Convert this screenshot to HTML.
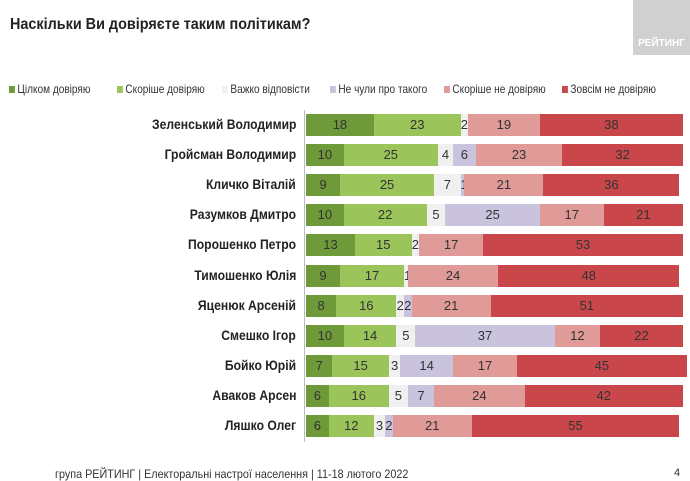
<!DOCTYPE html>
<html><head><meta charset="utf-8"><style>
body{margin:0;width:690px;height:478px;background:#fff;font-family:"Liberation Sans",sans-serif;position:relative;overflow:hidden}
.t{position:absolute;left:10px;top:16px;font-size:16px;font-weight:bold;color:#222;transform:scaleX(.9);transform-origin:left}
.logo{position:absolute;left:633px;top:0;width:57px;height:55px;background:#d0d0d0;color:#fff;font-size:10px;font-weight:bold;text-align:center;line-height:12px;padding-top:38px;box-sizing:border-box}
.lg{position:absolute;top:82px;font-size:12px;color:#333;white-space:nowrap;transform:scaleX(.84);transform-origin:left}
.lg i{display:inline-block;width:7px;height:7px;margin-right:3px}
.nm{position:absolute;right:394px;font-size:13.5px;font-weight:bold;color:#222;white-space:nowrap;transform:scaleX(.9);transform-origin:right}
.row{position:absolute;left:306px;height:22px;display:flex}
.row div{height:22px;line-height:22px;text-align:center;font-size:13px;color:#333;overflow:visible;white-space:nowrap}
.ax{position:absolute;left:304px;top:110px;width:1px;height:332px;background:#bbb}
.ft{position:absolute;left:55px;top:467px;font-size:12px;color:#333;transform:scaleX(.9);transform-origin:left}
</style></head><body>
<div class="t">Наскільки Ви довіряєте таким політикам?</div>
<div class="logo">РЕЙТИНГ</div>
<div class="lg" style="left:9px"><i style="background:#6f9a3a"></i>Цілком довіряю</div>
<div class="lg" style="left:117px"><i style="background:#9bc45a"></i>Скоріше довіряю</div>
<div class="lg" style="left:222px"><i style="background:#f0f0f0"></i>Важко відповісти</div>
<div class="lg" style="left:330px"><i style="background:#c9c3de"></i>Не чули про такого</div>
<div class="lg" style="left:444px"><i style="background:#e09a98"></i>Скоріше не довіряю</div>
<div class="lg" style="left:562px"><i style="background:#c9474a"></i>Зовсім не довіряю</div>
<div class="ax"></div>
<div id="c"></div>
<div class="ft">група РЕЙТИНГ | Електоральні настрої населення | 11-18 лютого 2022</div>
<div style="position:absolute;left:674px;top:467px;font-size:11px;color:#333">4</div>
<script>
var d=[["Зеленський Володимир",18,23,2,0,19,38],["Гройсман Володимир",10,25,4,6,23,32],["Кличко Віталій",9,25,7,1,21,36],["Разумков Дмитро",10,22,5,25,17,21],["Порошенко Петро",13,15,2,0,17,53],["Тимошенко Юлія",9,17,1,0,24,48],["Яценюк Арсеній",8,16,2,2,21,51],["Смешко Ігор",10,14,5,37,12,22],["Бойко Юрій",7,15,3,14,17,45],["Аваков Арсен",6,16,5,7,24,42],["Ляшко Олег",6,12,3,2,21,55]];
var col=["#6f9a3a","#9bc45a","#f0f0f0","#c9c3de","#e09a98","#c9474a"];
var h="";
d.forEach(function(r,i){var y=114+i*30.1;
h+='<div class="nm" style="top:'+(y+3)+'px">'+r[0]+'</div><div class="row" style="top:'+y+'px">';
for(var k=1;k<7;k++){if(r[k]==0&&k!=4)continue;h+='<div style="width:'+(r[k]*3.77)+'px;background:'+col[k-1]+'">'+(r[k]==0?'':r[k])+'</div>';}
h+='</div>';});
document.getElementById("c").innerHTML=h;
</script>
</body></html>
